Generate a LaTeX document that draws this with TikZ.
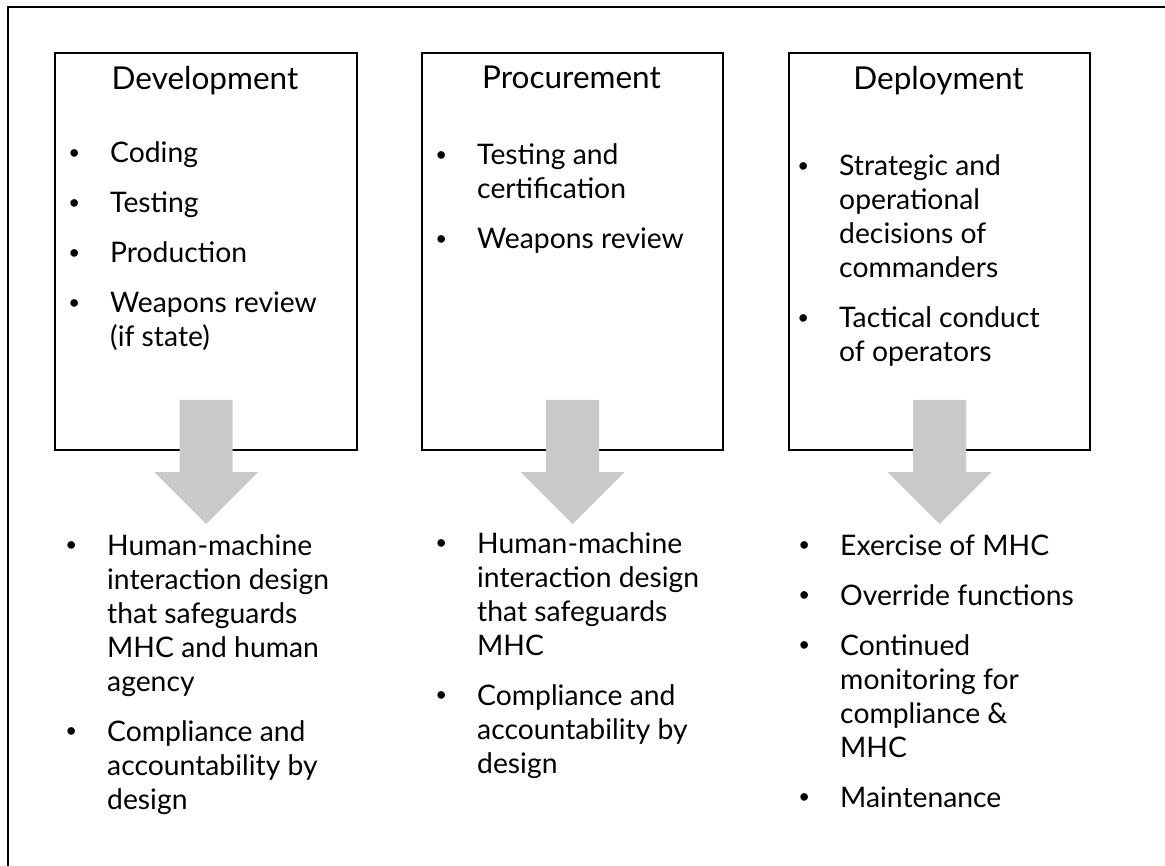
\documentclass[tikz,border=0pt]{standalone}
\usepackage{fontspec}
\setmainfont{Lato}

\definecolor{arrowgrey}{RGB}{201,201,201}
\newcommand{\bul}{\llap{\makebox[72pt]{\raisebox{0.12em}{\scalebox{0.72}{\textbullet}}}}}

\begin{document}
\begin{tikzpicture}[x=1pt,y=-1pt,
    stage/.style={draw,line width=2pt,anchor=north west,inner sep=0pt,
        minimum width=302pt,minimum height=397pt},
    title/.style={anchor=base,inner sep=0pt,font=\fontsize{31.5}{36}\selectfont},
    items/.style={anchor=base west,inner sep=0pt,font=\fontsize{28.3}{34}\selectfont},
    bigarrow/.style={fill=arrowgrey}]
\clip (0,0) rectangle (1165,866);
\draw[line width=2pt] (7.5,900) -- (7.5,7.5) -- (1200,7.5);

% the three stages
\node[stage] (dev)  at (54,52)  {};
\node[stage,minimum width=301pt] (proc) at (421,52) {};
\node[stage,minimum width=301pt] (depl) at (788,52) {};

\node[title] (devtitle)  at (205,90)   {Development};
\node[title] (proctitle) at (571.5,89) {Procurement};
\node[title] (depltitle) at (938.5,90) {Deployment};

\node[items] (devtop) at (110,163) {\begin{tabular}[t]{@{}l@{}}
\bul Coding\\[16pt]
\bul Testing\\[16pt]
\bul Production\\[16pt]
\bul Weapons review\\
(if state)
\end{tabular}};

\node[items] (proctop) at (477,165) {\begin{tabular}[t]{@{}l@{}}
\bul Testing and\\
certification\\[16pt]
\bul Weapons review
\end{tabular}};

\node[items] (depltop) at (839,176) {\begin{tabular}[t]{@{}l@{}}
\bul Strategic and\\
operational\\
decisions of\\
commanders\\[16pt]
\bul Tactical conduct\\
of operators
\end{tabular}};

% arrows down to the design requirements
\foreach \b in {dev,proc,depl}
  \fill[bigarrow] (\b.south) ++(-26.5,-51) -- ++(53,0) -- ++(0,72) -- ++(25.5,0)
    -- ++(-52,52) -- ++(-52,-52) -- ++(25.5,0) -- cycle;

\node[items] (devbot) at (107,555) {\begin{tabular}[t]{@{}l@{}}
\bul Human-machine\\
interaction design\\
that safeguards\\
MHC and human\\
agency\\[16pt]
\bul Compliance and\\
accountability by\\
design
\end{tabular}};

\node[items] (procbot) at (477,553) {\begin{tabular}[t]{@{}l@{}}
\bul Human-machine\\
interaction design\\
that safeguards\\
MHC\\[16pt]
\bul Compliance and\\
accountability by\\
design
\end{tabular}};

\node[items] (deplbot) at (840,555) {\begin{tabular}[t]{@{}l@{}}
\bul Exercise of MHC\\[16pt]
\bul Override functions\\[16pt]
\bul Continued\\
monitoring for\\
compliance \&\\
MHC\\[16pt]
\bul Maintenance
\end{tabular}};
\end{tikzpicture}
\end{document}
